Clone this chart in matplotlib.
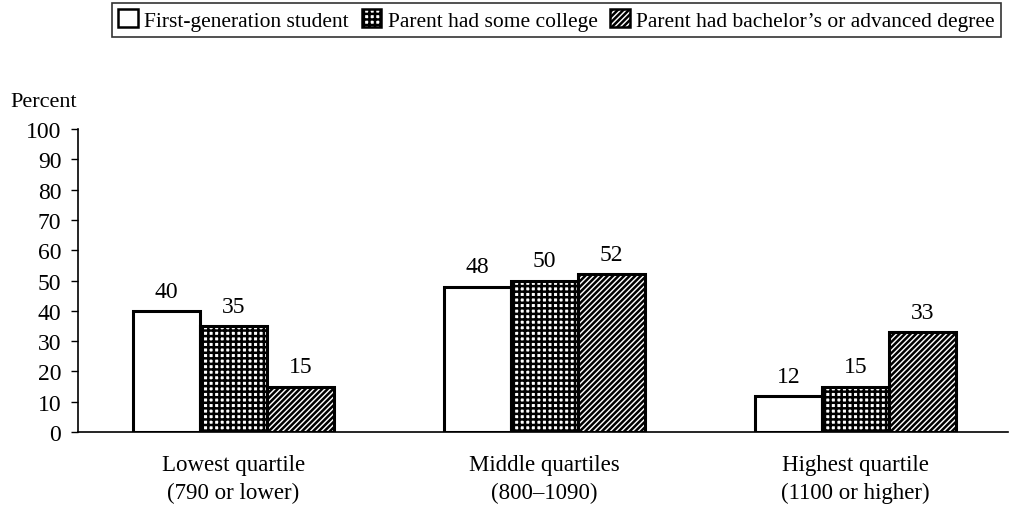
import numpy as np
import matplotlib.pyplot as plt
from matplotlib.patches import Patch

plt.rcParams["font.family"] = ["Liberation Serif", "DejaVu Serif"]
plt.rcParams["hatch.linewidth"] = 1.8

# データ
groups = ["Lowest quartile\n(790 or lower)", "Middle quartiles\n(800\u20131090)", "Highest quartile\n(1100 or higher)"]
series = ["First-generation student", "Parent had some college", "Parent had bachelor\u2019s or advanced degree"]
first_gen = [40, 48, 12]
some_college = [35, 50, 15]
bachelors = [15, 52, 33]

hatches = [None, "+++", "//////"]
values = [first_gen, some_college, bachelors]

fig = plt.figure(figsize=(10.11, 5.10), dpi=100)
ax = fig.add_axes([78 / 1011, 1 - 433 / 510, 1 - 78 / 1011 - 3 / 1011, (433 - 130) / 510])

x = np.arange(len(groups))
w = 0.215
for i, (vals, h) in enumerate(zip(values, hatches)):
    pos = x + (i - 1) * w
    ax.bar(pos, vals, w, facecolor="white", edgecolor="black", hatch=h, linewidth=2.2, zorder=2)
    for p, v in zip(pos, vals):
        ax.text(p, v + 3, str(v), ha="center", va="bottom", fontsize=17)

ax.set_ylim(0, 100)
ax.set_xlim(-0.5, 2.49)
ax.set_yticks(range(0, 101, 10))
ax.tick_params(axis="y", labelsize=17, length=5, width=1, direction="out", pad=7)
ax.set_xticks(x)
ax.set_xticklabels(groups, fontsize=16.5, linespacing=1.4)
ax.tick_params(axis="x", length=0, pad=16)
for s in ["top", "right"]:
    ax.spines[s].set_visible(False)
ax.spines["left"].set_linewidth(1.2)
ax.spines["bottom"].set_linewidth(1.2)

fig.text(10 / 1011, 1 - 103 / 510, "Percent", fontsize=16, va="center", ha="left")

handles = [Patch(facecolor="white", edgecolor="black", hatch=h, linewidth=1.8) for h in hatches]
leg = fig.legend(handles, series, loc="upper left", bbox_to_anchor=(112 / 1011, 1 - 4 / 510),
                 ncol=3, fontsize=15.5, frameon=True, fancybox=False, handlelength=0.9,
                 handleheight=0.9, handletextpad=0.3, columnspacing=0.6, borderpad=0.3,
                 borderaxespad=0)
leg.get_frame().set_edgecolor("black")
leg.get_frame().set_linewidth(1.2)

fig.savefig("out.png", dpi=100)
